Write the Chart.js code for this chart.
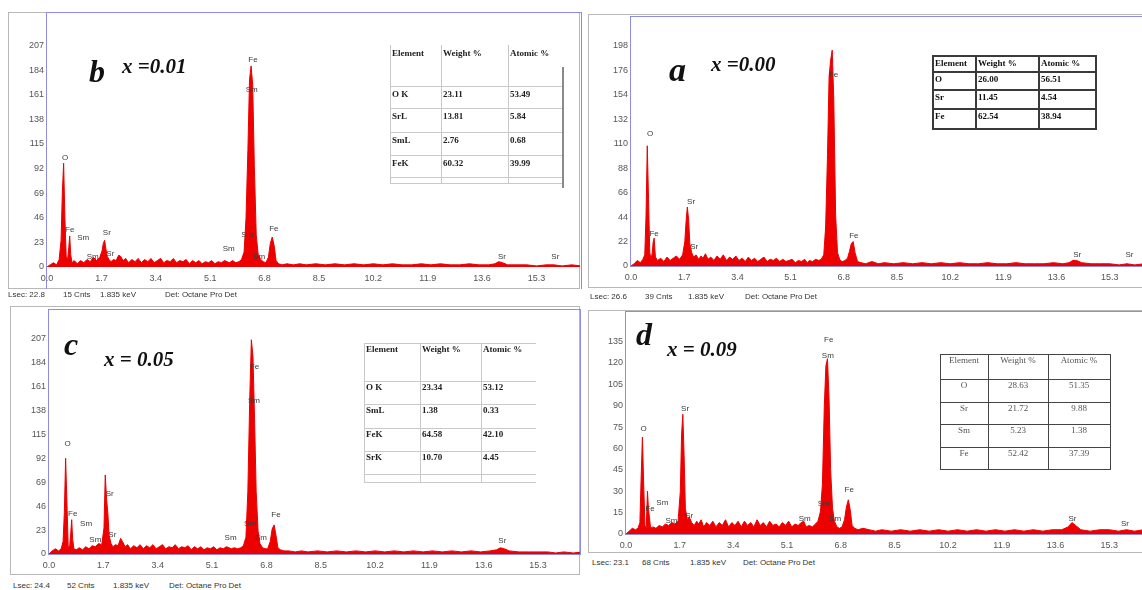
<!DOCTYPE html>
<html>
<head>
<meta charset="utf-8">
<script src="https://cdn.jsdelivr.net/npm/chart.js@4.4.1/dist/chart.umd.min.js"></script>
<style>
  body { margin: 0; background: #fff; }
  #page { position: relative; width: 1142px; height: 590px; overflow: hidden; font-family: "Liberation Sans", Arial, sans-serif; }
  .frame { position: absolute; border: 1px solid #b8b8b8; box-sizing: border-box; }
  .blue { position: absolute; border: 1px solid #8c8ce6; box-sizing: border-box; }
  .plot { position: absolute; }
  .letter { position: absolute; font-family: "Liberation Serif", serif; font-weight: bold; font-style: italic; line-height: 1; color: #111; white-space: nowrap; }
  .foot { position: absolute; font-size: 8px; color: #333; white-space: nowrap; line-height: 1; }
  .cell { position: absolute; font-family: "Liberation Serif", serif; font-size: 9px; line-height: 10px; white-space: nowrap; }
  .ln { position: absolute; }
</style>
</head>
<body>
<div id="page">
  <!-- panel frames -->
  <div class="frame" style="left:8px;top:12px;width:572px;height:277px;"></div>
  <div class="frame" style="left:588px;top:14px;width:556px;height:274px;"></div>
  <div class="frame" style="left:10px;top:306px;width:570px;height:269px;"></div>
  <div class="frame" style="left:588px;top:310px;width:556px;height:243px;"></div>

  <div class="blue" style="left:46px;top:12px;width:536px;height:277px;border-bottom:none;"></div>
  <div class="blue" style="left:630px;top:16px;width:514px;height:251px;"></div>
  <div class="blue" style="left:48px;top:309px;width:533px;height:246px;"></div>
  <div class="blue" style="left:625px;top:311px;width:519px;height:224px;"></div>

  <canvas id="chartB" class="plot" width="573" height="274" style="left:7px;top:13px;"></canvas>
  <canvas id="chartA" class="plot" width="551" height="269" style="left:591px;top:17px;"></canvas>
  <canvas id="chartC" class="plot" width="571" height="264" style="left:9px;top:310px;"></canvas>
  <canvas id="chartD" class="plot" width="556" height="242" style="left:586px;top:312px;"></canvas>

  <div class="letter" style="left:89px;top:55px;font-size:32px;">b</div>
  <div class="letter" style="left:122px;top:56px;font-size:21px;">x =0.01</div>
  <div class="letter" style="left:669px;top:53px;font-size:34px;">a</div>
  <div class="letter" style="left:711px;top:54px;font-size:21px;">x =0.00</div>
  <div class="letter" style="left:64px;top:328px;font-size:32px;">c</div>
  <div class="letter" style="left:104px;top:349px;font-size:21px;">x = 0.05</div>
  <div class="letter" style="left:636px;top:318px;font-size:32px;">d</div>
  <div class="letter" style="left:667px;top:339px;font-size:21px;">x = 0.09</div>
</div>

<script>
// energy axis (keV) shared by the four spectra
const energy = [
  0, 0.1, 0.2, 0.3, 0.38, 0.44, 0.48, 0.52, 0.56, 0.6, 0.64, 0.68, 0.71, 0.74, 0.78, 0.85,
  0.95, 1.05, 1.15, 1.25, 1.35, 1.45, 1.55, 1.65, 1.72, 1.76, 1.8, 1.84, 1.88, 1.94, 2.0, 2.08,
  2.16, 2.24, 2.3, 2.38, 2.46, 2.55, 2.65, 2.75, 2.85, 2.95, 3.05, 3.15, 3.25, 3.35, 3.45, 3.55,
  3.65, 3.75, 3.85, 3.95, 4.05, 4.15, 4.25, 4.35, 4.45, 4.55, 4.65, 4.75, 4.85, 4.95, 5.05, 5.15,
  5.25, 5.35, 5.45, 5.55, 5.63, 5.7, 5.8, 5.9, 6.0, 6.08, 6.16, 6.22, 6.28, 6.33, 6.38, 6.43,
  6.48, 6.54, 6.6, 6.68, 6.76, 6.84, 6.92, 6.98, 7.04, 7.1, 7.16, 7.24, 7.35, 7.5, 7.7, 7.9,
  8.1, 8.4, 8.7, 9.0, 9.3, 9.6, 9.9, 10.2, 10.5, 10.8, 11.1, 11.4, 11.7, 12.0, 12.3, 12.6,
  12.9, 13.2, 13.5, 13.8, 14.0, 14.12, 14.24, 14.4, 14.7, 15.0, 15.3, 15.6, 15.85, 16.1, 16.4, 16.7
];

// counts, x = 0.01 (b)
const countsB = [
  0, 2, 4, 2, 7, 25, 70, 97, 45, 10, 6, 18, 29, 12, 4, 6,
  3, 6, 4, 7, 5, 9, 6, 9, 15, 22, 25, 17, 10, 7, 5, 7,
  6, 11, 10, 6, 8, 4, 7, 5, 8, 4, 7, 5, 8, 4, 6, 8,
  4, 6, 5, 8, 4, 6, 5, 7, 3, 6, 4, 6, 3, 5, 4, 6,
  3, 5, 4, 6, 5, 4, 6, 4, 5, 7, 14, 45, 110, 175, 188, 170,
  95, 30, 12, 7, 5, 4, 9, 22, 28, 20, 6, 3, 2, 3, 2, 3,
  2, 3, 2, 3, 2, 3, 2, 3, 2, 3, 2, 2, 3, 2, 3, 2,
  2, 3, 2, 2, 3, 5, 4, 2, 2, 2, 1, 2, 2, 1, 2, 1
];
// counts, x = 0.00 (a)
const countsA = [
  0, 2, 5, 3, 6, 10, 45, 108, 60, 12, 6, 12, 22, 25, 8, 5,
  7, 4, 8, 5, 7, 9, 6, 10, 22, 40, 53, 42, 20, 12, 8, 10,
  6, 9, 7, 11, 6, 8, 5, 9, 6, 10, 5, 8, 6, 9, 5, 7,
  4, 8, 5, 7, 4, 6, 8, 4, 6, 5, 7, 4, 6, 4, 5, 6,
  3, 5, 4, 6, 3, 5, 4, 6, 5, 6, 10, 35, 100, 170, 185, 194,
  150, 45, 12, 5, 4, 5, 7, 13, 20, 22, 12, 4, 3, 2, 4, 2,
  3, 2, 3, 2, 3, 2, 3, 2, 3, 2, 2, 3, 2, 2, 3, 2,
  2, 2, 3, 2, 3, 5, 5, 3, 2, 2, 2, 1, 2, 1, 2, 1
];
// counts, x = 0.05 (c)
const countsC = [
  0, 3, 5, 3, 5, 12, 40, 92, 50, 8, 5, 20, 33, 14, 5, 4,
  6, 4, 7, 5, 8, 7, 10, 9, 25, 76, 53, 40, 18, 10, 7, 9,
  8, 15, 12, 7, 9, 5, 8, 6, 9, 5, 8, 6, 9, 5, 7, 9,
  5, 7, 6, 9, 5, 7, 6, 8, 4, 7, 5, 7, 4, 6, 5, 7,
  4, 6, 5, 7, 6, 5, 6, 5, 6, 8, 16, 60, 150, 206, 190, 130,
  60, 22, 10, 6, 5, 5, 12, 24, 28, 18, 6, 4, 3, 3, 2, 3,
  2, 3, 2, 3, 2, 3, 2, 3, 2, 3, 2, 3, 2, 3, 2, 3,
  2, 3, 2, 3, 4, 6, 5, 3, 2, 2, 2, 2, 1, 2, 1, 2
];
// counts, x = 0.09 (d)
const countsD = [
  0, 2, 4, 3, 4, 8, 40, 68, 35, 6, 4, 30, 18, 12, 4, 5,
  4, 6, 5, 7, 6, 8, 7, 9, 30, 70, 84, 55, 18, 10, 12, 8,
  6, 9, 7, 10, 5, 8, 6, 9, 5, 8, 6, 10, 5, 8, 6, 9,
  5, 9, 6, 8, 5, 10, 6, 8, 5, 9, 6, 7, 5, 8, 6, 9,
  5, 7, 6, 8, 9, 5, 6, 5, 7, 9, 16, 35, 90, 118, 123, 95,
  45, 18, 9, 5, 4, 5, 10, 19, 24, 17, 6, 4, 3, 4, 3, 2,
  3, 2, 3, 2, 3, 2, 3, 2, 3, 2, 3, 2, 3, 2, 3, 2,
  3, 2, 3, 3, 5, 8, 6, 3, 2, 3, 3, 2, 3, 2, 3, 2
];

const xTicks = [0.0, 1.7, 3.4, 5.1, 6.8, 8.5, 10.2, 11.9, 13.6, 15.3];
const yTicksB = [0, 23, 46, 69, 92, 115, 138, 161, 184, 207];
const yTicksA = [0, 22, 44, 66, 88, 110, 132, 154, 176, 198];
const yTicksC = [0, 23, 46, 69, 92, 115, 138, 161, 184, 207];
const yTicksD = [0, 15, 30, 45, 60, 75, 90, 105, 120, 135];

// peak labels: element, keV, counts
const peaksB = [["O", 0.57, 102], ["Fe", 0.71, 35], ["Sm", 1.13, 27], ["Sm", 1.43, 10], ["Sr", 1.87, 32], ["Sr", 1.98, 12],
  ["Sm", 5.68, 17], ["Fe", 6.44, 194], ["Sm", 6.40, 166], ["Sm", 6.26, 30], ["Sm", 6.63, 10], ["Fe", 7.09, 36], ["Sr", 14.22, 10], ["Sr", 15.89, 10]];
const peaksA = [["O", 0.61, 119], ["Fe", 0.74, 29], ["Sr", 1.92, 58], ["Sr", 2.02, 17], ["Fe", 6.47, 172], ["Fe", 7.12, 27], ["Sr", 14.26, 10], ["Sr", 15.93, 10]];
const peaksC = [["O", 0.58, 106], ["Fe", 0.74, 39], ["Sm", 1.16, 29], ["Sm", 1.45, 14], ["Sr", 1.90, 58], ["Sr", 1.98, 18],
  ["Sm", 5.68, 16], ["Fe", 6.43, 180], ["Sm", 6.41, 147], ["Sm", 6.29, 29], ["Sm", 6.63, 16], ["Fe", 7.10, 38], ["Sr", 14.18, 13]];
const peaksD = [["O", 0.56, 74], ["Fe", 0.76, 18], ["Sm", 1.15, 22], ["Sm", 1.44, 9], ["Sr", 1.87, 88], ["Sr", 2.0, 13],
  ["Sm", 5.66, 11], ["Fe", 6.42, 136], ["Sm", 6.39, 125], ["Sm", 6.26, 21], ["Sm", 6.62, 11], ["Fe", 7.07, 31], ["Sr", 14.14, 11], ["Sr", 15.8, 7]];

// composition tables
const tableHead = ["Element", "Weight %", "Atomic %"];
const tableB = [["O K", "23.11", "53.49"], ["SrL", "13.81", "5.84"], ["SmL", "2.76", "0.68"], ["FeK", "60.32", "39.99"]];
const tableA = [["O", "26.00", "56.51"], ["Sr", "11.45", "4.54"], ["Fe", "62.54", "38.94"]];
const tableC = [["O K", "23.34", "53.12"], ["SmL", "1.38", "0.33"], ["FeK", "64.58", "42.10"], ["SrK", "10.70", "4.45"]];
const tableD = [["O", "28.63", "51.35"], ["Sr", "21.72", "9.88"], ["Sm", "5.23", "1.38"], ["Fe", "52.42", "37.39"]];

// detector footers
const footB = ["Lsec: 22.8", "15 Cnts", "1.835 keV", "Det: Octane Pro Det"];
const footA = ["Lsec: 26.6", "39 Cnts", "1.835 keV", "Det: Octane Pro Det"];
const footC = ["Lsec: 24.4", "52 Cnts", "1.835 keV", "Det: Octane Pro Det"];
const footD = ["Lsec: 23.1", "68 Cnts", "1.835 keV", "Det: Octane Pro Det"];

const page = document.getElementById("page");

const peakLabels = {
  id: "peakLabels",
  afterDatasetsDraw(chart, args, opts) {
    const ctx = chart.ctx;
    ctx.save();
    ctx.font = '8px "Liberation Sans", Arial, sans-serif';
    ctx.fillStyle = "#3a3a3a";
    ctx.textAlign = "center";
    ctx.textBaseline = "middle";
    opts.items.forEach(p => {
      ctx.fillText(p[0], chart.scales.x.getPixelForValue(p[1]), chart.scales.y.getPixelForValue(p[2]));
    });
    ctx.restore();
  }
};

function spectrum(id, counts, yTicks, yMax, xMax, peaks) {
  return new Chart(document.getElementById(id), {
    type: "line",
    data: {
      datasets: [{
        data: energy.map((e, i) => ({ x: e, y: counts[i] })),
        borderColor: "#ec0000",
        backgroundColor: "#ec0000",
        borderWidth: 1,
        fill: "origin",
        pointRadius: 0,
        tension: 0
      }]
    },
    options: {
      responsive: false,
      animation: false,
      layout: { padding: 0 },
      plugins: { legend: { display: false }, tooltip: { enabled: false }, peakLabels: { items: peaks } },
      scales: {
        x: {
          type: "linear", min: 0, max: xMax,
          grid: { display: false, drawTicks: false },
          border: { display: false },
          afterBuildTicks: s => { s.ticks = xTicks.map(v => ({ value: v })); },
          afterFit: s => { s.height = 20; },
          ticks: { autoSkip: false, maxRotation: 0, padding: 6, color: "#555", font: { size: 9, family: "Liberation Sans" }, callback: v => v.toFixed(1) }
        },
        y: {
          min: 0, max: yMax,
          grid: { display: false, drawTicks: false },
          border: { display: false },
          afterBuildTicks: s => { s.ticks = yTicks.map(v => ({ value: v })); },
          afterFit: s => { s.width = 40; },
          ticks: { padding: 3, color: "#555", font: { size: 9, family: "Liberation Sans" } }
        }
      }
    },
    plugins: [peakLabels]
  });
}

spectrum("chartB", countsB, yTicksB, 229.6, 16.66, peaksB);
spectrum("chartA", countsA, yTicksA, 216.2, 16.33, peaksA);
spectrum("chartC", countsC, yTicksC, 226.5, 16.61, peaksC);
spectrum("chartD", countsD, yTicksD, 149.9, 16.34, peaksD);

function line(x, y, w, h, color) {
  const d = document.createElement("div");
  d.className = "ln";
  d.style.cssText = `left:${x}px;top:${y}px;width:${w}px;height:${h}px;background:${color};`;
  page.appendChild(d);
}

function text(str, x, y, w, cls, style) {
  const d = document.createElement("div");
  d.className = cls;
  d.textContent = str;
  d.style.cssText = `left:${x}px;top:${y}px;` + (w ? `width:${w}px;` : "") + style;
  page.appendChild(d);
}

// t: x, y, column widths, row heights, line colour, outer lines, text style
function table(rows, t) {
  const xs = [t.x];
  t.cols.forEach(w => xs.push(xs[xs.length - 1] + w));
  const ys = [t.y];
  t.rowH.forEach(h => ys.push(ys[ys.length - 1] + h));
  const W = xs[xs.length - 1] - t.x, H = ys[ys.length - 1] - t.y;
  ys.forEach((y, i) => { if (i > 0 || t.top) line(t.x, y, W, t.lw, t.color); });
  xs.forEach((x, i) => { if (i < xs.length - 1 || t.right) line(x, t.y, t.lw, H + t.lw, t.color); });
  if (t.edge) line(xs[xs.length - 1], t.y + 22, 1.5, H - 17, t.edge);
  [tableHead].concat(rows).forEach((r, i) => {
    r.forEach((c, j) => {
      const w = t.cols[j] - 2 * t.pad;
      text(c, xs[j] + t.pad, ys[i] + t.padTop, w, "cell", t.style);
    });
  });
}

table(tableB, { x: 390, y: 45, cols: [51, 67, 54], rowH: [41, 22, 24, 23, 22, 6], color: "#c9c9c9", lw: 1, top: false, right: false, edge: "#8a8a8a",
  pad: 2, padTop: 3, style: "font-weight:bold;color:#222;" });
table(tableA, { x: 932, y: 55, cols: [43, 63, 57], rowH: [16, 18, 19, 20], color: "#3a3a3a", lw: 1.5, top: true, right: true,
  pad: 3, padTop: 3, style: "font-weight:bold;color:#111;" });
table(tableC, { x: 364, y: 343, cols: [56, 61, 55], rowH: [38, 23, 24, 23, 23, 8], color: "#c9c9c9", lw: 1, top: true, right: false,
  pad: 2, padTop: 1, style: "font-weight:bold;color:#222;" });
table(tableD, { x: 940, y: 354, cols: [48, 60, 62], rowH: [25, 23, 22, 23, 22], color: "#444", lw: 1, top: true, right: true,
  pad: 1, padTop: 1, style: "color:#555;text-align:center;" });

function footer(items, xs, y) {
  items.forEach((s, i) => text(s, xs[i], y, 0, "foot", ""));
}
footer(footB, [8, 63, 100, 165], 291);
footer(footA, [590, 645, 688, 745], 293);
footer(footC, [13, 67, 113, 169], 582);
footer(footD, [592, 642, 690, 743], 559);
</script>
</body>
</html>
